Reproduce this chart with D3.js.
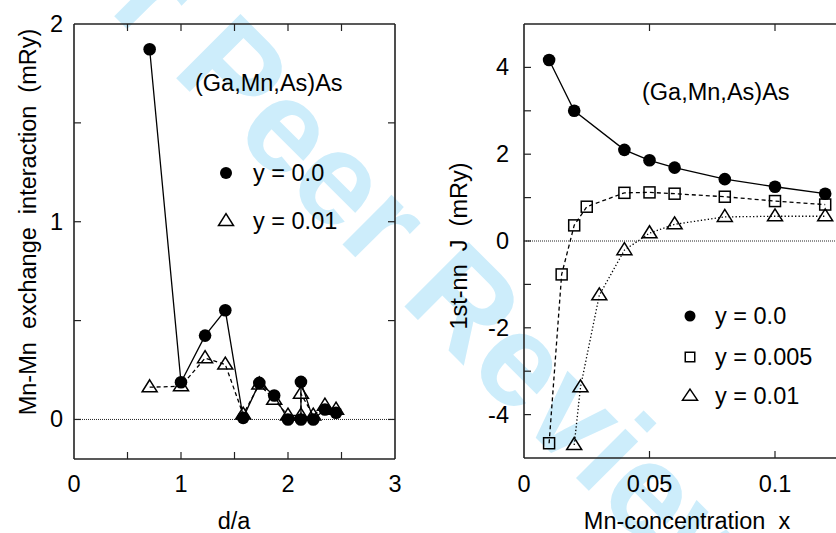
<!DOCTYPE html>
<html><head><meta charset="utf-8">
<script src="https://cdn.jsdelivr.net/npm/d3@7"></script>
<style>
html,body{margin:0;padding:0;background:#fff;}
svg{display:block;font-family:"Liberation Sans",Arial,sans-serif;}
text{white-space:pre;}
</style></head>
<body>
<svg id="chart" width="836" height="533"></svg>
<script>
// ---------- DATA ----------
// Left panel: Mn-Mn exchange vs d/a
const leftD_y00   = [0.707, 1.0, 1.225, 1.414, 1.581, 1.732, 1.871, 2.0, 2.121, 2.121, 2.236, 2.345, 2.449];
const leftJ_y00   = [1.872, 0.188, 0.424, 0.552, 0.008, 0.185, 0.121, 0.0, 0.0, 0.19, 0.0, 0.05, 0.034];
const leftD_y001  = [0.707, 1.0, 1.225, 1.414, 1.581, 1.732, 1.871, 2.0, 2.121, 2.121, 2.236, 2.345, 2.449];
const leftJ_y001  = [0.163, 0.168, 0.31, 0.278, 0.025, 0.177, 0.10, 0.02, 0.02, 0.13, 0.02, 0.07, 0.05];
const leftXTicks  = [0, 1, 2, 3];
const leftYTicks  = [0, 1, 2];
// Right panel: 1st-nn J vs Mn concentration
const rightX_y00   = [0.01, 0.02, 0.04, 0.05, 0.06, 0.08, 0.10, 0.12];
const rightJ_y00   = [4.17, 3.0, 2.1, 1.86, 1.69, 1.425, 1.25, 1.09];
const rightX_y0005 = [0.01, 0.015, 0.02, 0.025, 0.04, 0.05, 0.06, 0.08, 0.10, 0.12];
const rightJ_y0005 = [-4.66, -0.77, 0.36, 0.79, 1.11, 1.12, 1.09, 1.02, 0.92, 0.84];
const rightX_y001  = [0.02, 0.0225, 0.03, 0.04, 0.05, 0.06, 0.08, 0.10, 0.12];
const rightJ_y001  = [-4.70, -3.37, -1.25, -0.21, 0.18, 0.385, 0.555, 0.57, 0.57];
const rightXTicks  = [0, 0.05, 0.1];
const rightYTicks  = [-4, -2, 0, 2, 4];
const leftLegend   = ["y = 0.0", "y = 0.01"];
const rightLegend  = ["y = 0.0", "y = 0.005", "y = 0.01"];
const title = "(Ga,Mn,As)As";

// ---------- DRAW ----------
const svg = d3.select("#chart");
const FS = 23.5;

// watermark
const wm = svg.append("g").attr("transform","translate(170,72) rotate(45)")
  .attr("font-family","Liberation Sans, Arial, sans-serif").attr("font-weight","bold")
  .attr("font-size",132).attr("fill","#cdedfb");
wm.append("text").attr("x",0).attr("y",0).attr("text-anchor","end").text("For ");
wm.append("text").attr("x",0).attr("y",0).text("Peer Review");

const zip = (a,b)=>a.map((v,i)=>[v,b[i]]);
const triPath = (w,h)=>`M0,${-h*0.62}L${w/2},${h*0.38}L${-w/2},${h*0.38}Z`;

function frame(g, x, y, xMinor, yMinor, sides){
  const [x0,x1]=x.range(), [y0,y1]=y.range();
  const tl=7;
  const tk = g.append("g").attr("stroke","#222").attr("stroke-width",1.2);
  xMinor.forEach(v=>{
    const px=x(v);
    tk.append("line").attr("x1",px).attr("x2",px).attr("y1",y0).attr("y2",y0-tl);
    tk.append("line").attr("x1",px).attr("x2",px).attr("y1",y1).attr("y2",y1+tl);
  });
  yMinor.forEach(v=>{
    const py=y(v);
    tk.append("line").attr("x1",x0).attr("x2",x0+tl).attr("y1",py).attr("y2",py);
    if(sides.right) tk.append("line").attr("x1",x1).attr("x2",x1-tl).attr("y1",py).attr("y2",py);
  });
  const b = g.append("g").attr("stroke","#222").attr("stroke-width",1.6).attr("fill","none");
  b.append("line").attr("x1",x0).attr("x2",x0).attr("y1",y0).attr("y2",y1);
  b.append("line").attr("x1",x0).attr("x2",x1).attr("y1",y0).attr("y2",y0);
  b.append("line").attr("x1",x0).attr("x2",x1).attr("y1",y1).attr("y2",y1);
  if(sides.right) b.append("line").attr("x1",x1).attr("x2",x1).attr("y1",y0).attr("y2",y1);
  // zero line
  g.append("line").attr("x1",x0).attr("x2",x1).attr("y1",y(0)).attr("y2",y(0))
    .attr("stroke","#222").attr("stroke-width",1).attr("stroke-dasharray","1,1");
}

function line(g, x, y, pts, dash){
  g.append("path").attr("d", d3.line().x(d=>x(d[0])).y(d=>y(d[1]))(pts))
    .attr("fill","none").attr("stroke","#000").attr("stroke-width",1.3)
    .attr("stroke-dasharray", dash || null);
}
function circles(g,x,y,pts,r){
  g.selectAll(null).data(pts).enter().append("circle")
   .attr("cx",d=>x(d[0])).attr("cy",d=>y(d[1])).attr("r",r).attr("fill","#000");
}
function tris(g,x,y,pts,w,h){
  g.selectAll(null).data(pts).enter().append("path")
   .attr("transform",d=>`translate(${x(d[0])},${y(d[1])})`).attr("d",triPath(w,h))
   .attr("fill","none").attr("stroke","#000").attr("stroke-width",1.5);
}
function squares(g,x,y,pts,s){
  g.selectAll(null).data(pts).enter().append("rect")
   .attr("x",d=>x(d[0])-s/2).attr("y",d=>y(d[1])-s/2).attr("width",s).attr("height",s)
   .attr("fill","none").attr("stroke","#000").attr("stroke-width",1.5);
}

// ----- Left panel -----
const xL = d3.scaleLinear().domain([0,3]).range([74,395]);
const yL = d3.scaleLinear().domain([-0.2,2]).range([459,24]);
const gL = svg.append("g");
frame(gL, xL, yL, d3.range(0.5,3,0.5), d3.range(0,2,0.5), {right:true});

const Lc = zip(leftD_y00,leftJ_y00), Lt = zip(leftD_y001,leftJ_y001);
line(gL,xL,yL,Lt,"4,3");
tris(gL,xL,yL,Lt,15,12);
line(gL,xL,yL,Lc,null);
circles(gL,xL,yL,Lc,6.3);

gL.selectAll(null).data(leftXTicks).enter().append("text")
  .attr("x",d=>xL(d)).attr("y",492).attr("text-anchor","middle").attr("font-size",FS).text(d=>d3.format("d")(d));
gL.selectAll(null).data(leftYTicks).enter().append("text")
  .attr("x",63).attr("y",d=>yL(d)+8).attr("text-anchor","end").attr("font-size",FS).text(d=>d3.format("d")(d));
gL.append("text").attr("x",234).attr("y",529).attr("text-anchor","middle").attr("font-size",FS).text("d/a");
gL.append("text").attr("transform","translate(36,222) rotate(-90)").attr("text-anchor","middle")
  .attr("font-size",FS).text("Mn-Mn  exchange  interaction  (mRy)");
gL.append("text").attr("x",195).attr("y",91).attr("font-size",FS).text(title);
// legend left
circles(gL,(v)=>v,(v)=>v,[[226,173]],6);
tris(gL,(v)=>v,(v)=>v,[[226,221]],15,12);
gL.selectAll(null).data(leftLegend).enter().append("text")
  .attr("x",253).attr("y",(d,i)=>[181,229][i]).attr("font-size",FS).text(d=>d);

// ----- Right panel -----
const xR = d3.scaleLinear().domain([0,0.125]).range([524,837.75]);
const yR = d3.scaleLinear().domain([-5,5]).range([458,24]);
const gR = svg.append("g");
frame(gR, xR, yR, [0.05,0.1], d3.range(-4,5,1), {right:false});

const Rc = zip(rightX_y00,rightJ_y00), Rs = zip(rightX_y0005,rightJ_y0005), Rt = zip(rightX_y001,rightJ_y001);
line(gR,xR,yR,Rt,"1.3,2.2");
tris(gR,xR,yR,Rt,15,12);
line(gR,xR,yR,Rs,"4,3");
squares(gR,xR,yR,Rs,11);
line(gR,xR,yR,Rc,null);
circles(gR,xR,yR,Rc,6.3);

gR.selectAll(null).data(rightXTicks).enter().append("text")
  .attr("x",d=>xR(d)).attr("y",492).attr("text-anchor","middle").attr("font-size",FS).text(d=>d===0?"0":d3.format("~g")(d));
gR.selectAll(null).data(rightYTicks).enter().append("text")
  .attr("x",509).attr("y",d=>yR(d)+8).attr("text-anchor","end").attr("font-size",FS).text(d=>String(d));
gR.append("text").attr("x",687).attr("y",529).attr("text-anchor","middle").attr("font-size",FS).text("Mn-concentration  x");
gR.append("text").attr("transform","translate(467,246) rotate(-90)").attr("text-anchor","middle")
  .attr("font-size",FS).text("1st-nn  J  (mRy)");
gR.append("text").attr("x",642).attr("y",100).attr("font-size",FS).text(title);
// legend right
circles(gR,(v)=>v,(v)=>v,[[690,316]],5.5);
squares(gR,(v)=>v,(v)=>v,[[690,357]],9.5);
tris(gR,(v)=>v,(v)=>v,[[690,396]],15,11);
gR.selectAll(null).data(rightLegend).enter().append("text")
  .attr("x",715).attr("y",(d,i)=>[324,365,404][i]).attr("font-size",FS).text(d=>d);
</script>
</body></html>
